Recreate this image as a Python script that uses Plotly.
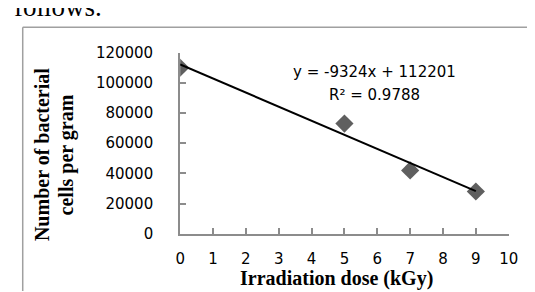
import numpy as np
import plotly.graph_objects as go

dose_kgy = [0, 5, 7, 9]
cells_per_gram = [110000, 73000, 42000, 28000]
x_ticks = list(range(0, 11))
y_ticks = [0, 20000, 40000, 60000, 80000, 100000, 120000]
y_ticklabels = [str(v) for v in y_ticks]

slope, intercept = np.polyfit(dose_kgy, cells_per_gram, 1)
ss_res = sum((y - (slope * x + intercept)) ** 2 for x, y in zip(dose_kgy, cells_per_gram))
mean_y = np.mean(cells_per_gram)
ss_tot = sum((y - mean_y) ** 2 for y in cells_per_gram)
r2 = 1 - ss_res / ss_tot
trend_x = [min(dose_kgy), max(dose_kgy)]
trend_y = [slope * x + intercept for x in trend_x]

W, H = 535, 292
def px(x):
    return x / W
def py(y):
    return 1 - y / H

fig = go.Figure()
fig.add_trace(go.Scatter(
    x=dose_kgy, y=cells_per_gram, mode="markers",
    marker=dict(symbol="diamond", size=14, color="#5f5f5f"),
    showlegend=False, hoverinfo="skip"))
fig.add_trace(go.Scatter(
    x=trend_x, y=trend_y, mode="lines",
    line=dict(color="black", width=2),
    showlegend=False, hoverinfo="skip"))

tickfont = dict(family="DejaVu Sans", size=15, color="black")
axis_common = dict(showline=True, linecolor="#8c8c8c", linewidth=2,
                   ticks="inside", ticklen=6, tickcolor="#8c8c8c", tickwidth=2,
                   showgrid=False, zeroline=False, tickfont=tickfont)

serif_bold = dict(family="Liberation Serif", size=20, color="black")
eq_font = dict(family="DejaVu Sans", size=15, color="black")

fig.update_layout(
    width=W, height=H,
    margin=dict(l=0, r=0, t=0, b=0),
    paper_bgcolor="white", plot_bgcolor="white",
    xaxis=dict(range=[0, 10], tickvals=x_ticks, ticktext=[str(v) for v in x_ticks],
               domain=[px(172), px(510)], anchor="y", ticklabelstandoff=10, **axis_common),
    yaxis=dict(range=[0, 120000], tickvals=y_ticks, ticktext=y_ticklabels,
               domain=[py(231), py(38)], anchor="x", ticklabelstandoff=22, **axis_common),
    shapes=[
        dict(type="line", xref="paper", yref="paper", x0=px(10), y0=py(11), x1=1.0, y1=py(11),
             line=dict(color="#a0a0a0", width=1.5)),
        dict(type="line", xref="paper", yref="paper", x0=px(10), y0=py(11), x1=px(10), y1=0,
             line=dict(color="#a0a0a0", width=1.5)),
    ],
    annotations=[
        dict(text="follows.", xref="paper", yref="paper", x=px(-1), y=py(7),
             xanchor="left", yanchor="bottom", showarrow=False,
             font=dict(family="Liberation Serif", size=27, color="black")),
        dict(text="<b>Irradiation dose (kGy)</b>", xref="paper", yref="paper", x=px(333), y=py(279),
             xanchor="center", yanchor="middle", showarrow=False, font=serif_bold),
        dict(text="<b>Number of bacterial</b>", xref="paper", yref="paper",
             x=px(30), y=py(147), xanchor="center", yanchor="middle", showarrow=False,
             textangle=-90, font=serif_bold),
        dict(text="<b>cells per gram</b>", xref="paper", yref="paper",
             x=px(55), y=py(147), xanchor="center", yanchor="middle", showarrow=False,
             textangle=-90, font=serif_bold),
        dict(text=f"y = {slope:.0f}x + {intercept:.0f}",
             xref="paper", yref="paper", x=px(372), y=py(59),
             xanchor="center", yanchor="middle", showarrow=False, font=eq_font),
        dict(text=f"R² = {r2:.4f}",
             xref="paper", yref="paper", x=px(372), y=py(83),
             xanchor="center", yanchor="middle", showarrow=False, font=eq_font),
    ],
)

fig.write_html("out.html")
